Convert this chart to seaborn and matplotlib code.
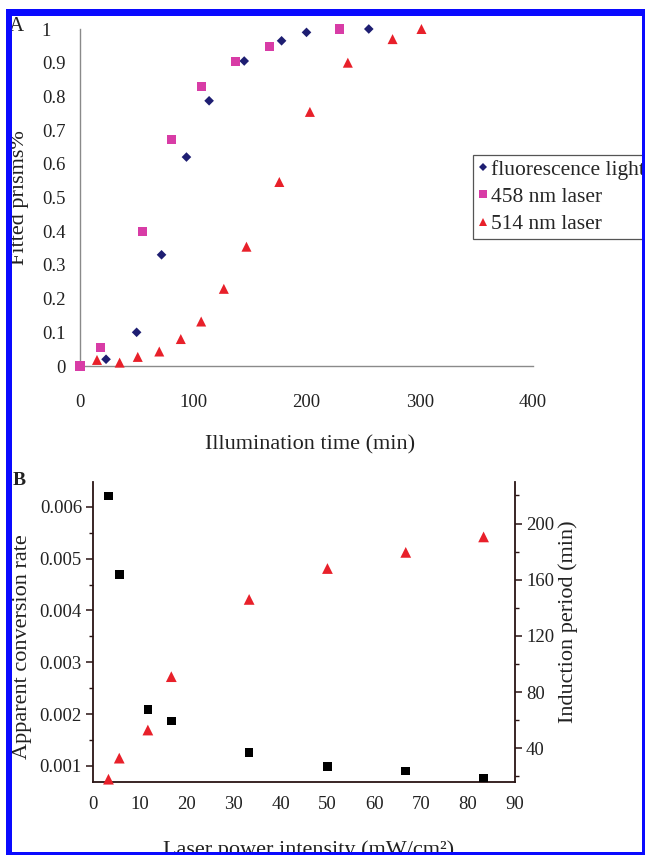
import matplotlib
matplotlib.use('Agg')
import matplotlib.pyplot as plt
import seaborn as sns
import pandas as pd
from matplotlib.patches import Rectangle
from matplotlib.lines import Line2D

# ---------------- Panel A data ----------------
fl_time = [23, 50, 72, 94, 114, 145, 178, 200, 255]
fl_frac = [0.02, 0.10, 0.33, 0.62, 0.787, 0.905, 0.965, 0.99, 1.0]
l458_time = [0, 18.5, 55, 81, 107, 137, 167.5, 229]
l458_frac = [0.0, 0.055, 0.40, 0.673, 0.83, 0.905, 0.947, 1.0]
l514_time = [15, 35, 51, 70, 89, 107, 127, 147, 176, 203, 236.5, 276, 301.5]
l514_frac = [0.018, 0.01, 0.027, 0.043, 0.08, 0.132, 0.229, 0.354, 0.546,
             0.754, 0.90, 0.97, 1.0]
series_names = ['fluorescence light', '458 nm laser', '514 nm laser']
a_xticks = [0, 100, 200, 300, 400]
a_yticks = [0, 0.1, 0.2, 0.3, 0.4, 0.5, 0.6, 0.7, 0.8, 0.9, 1.0]
a_yticklabels = ['0', '0.1', '0.2', '0.3', '0.4', '0.5', '0.6', '0.7', '0.8', '0.9', '1   ']

# ---------------- Panel B data ----------------
power = [3.3, 5.6, 11.7, 16.7, 33.3, 50.0, 66.7, 83.3]
conv_rate = [0.00621, 0.0047, 0.00209, 0.00187, 0.00126, 0.00099, 0.0009, 0.00077]
induction = [18, 33, 53, 91, 146, 168, 179.5, 190.5]
b_lticks = [0.001, 0.002, 0.003, 0.004, 0.005, 0.006]
b_lticklabels = ['0.001', '0.002', '0.003', '0.004', '0.005', '0.006']
b_rticks = [40, 80, 120, 160, 200]

W, H = 645, 855
sns.set_style('white')
plt.rcParams['font.family'] = ['Liberation Serif', 'DejaVu Serif']

fig = plt.figure(figsize=(W / 100, H / 100), dpi=100)


def px_axes(l, t, r, b):
    return fig.add_axes([l / W, 1 - b / H, (r - l) / W, (b - t) / H])


# ---------------- Panel A ----------------
axA = px_axes(80, 29, 533, 366)
dfA = pd.concat([
    pd.DataFrame({'time': fl_time, 'frac': fl_frac, 'series': series_names[0]}),
    pd.DataFrame({'time': l458_time, 'frac': l458_frac, 'series': series_names[1]}),
    pd.DataFrame({'time': l514_time, 'frac': l514_frac, 'series': series_names[2]}),
])
colsA = {series_names[0]: '#1e1e72', series_names[1]: '#d83ca6', series_names[2]: '#e8202a'}
markA = {series_names[0]: 'D', series_names[1]: 's', series_names[2]: '^'}
sizeA = {series_names[0]: 24, series_names[1]: 42, series_names[2]: 52}
for name in series_names:
    sub = dfA[dfA['series'] == name]
    sns.scatterplot(data=sub, x='time', y='frac', ax=axA, marker=markA[name],
                    color=colsA[name], s=sizeA[name], edgecolor='none',
                    linewidth=0, clip_on=False, zorder=3, legend=False)

axA.set_xlim(0, 400)
axA.set_ylim(0, 1)
axA.set_xticks(a_xticks)
axA.set_yticks(a_yticks, labels=a_yticklabels)
for s in ['top', 'right']:
    axA.spines[s].set_visible(False)
for s in ['left', 'bottom']:
    axA.spines[s].set_color('#8a8a8a')
    axA.spines[s].set_linewidth(1.0)
axA.tick_params(axis='both', direction='in', length=4, width=0.9, color='#8a8a8a',
                labelsize=13.5, labelcolor='#222222')
axA.tick_params(axis='x', pad=20)
axA.tick_params(axis='y', pad=10)
axA.set_xlabel('Illumination time (min)', fontsize=16, color='#222222')
axA.set_ylabel('Fitted prisms%', fontsize=16, color='#222222')
axA.xaxis.label.set_va('center')
axA.yaxis.label.set_va('center')
axA.xaxis.set_label_coords((310 - 80) / 453, (366 - 445) / 337)
axA.yaxis.set_label_coords((20 - 80) / 453, 0.5)

handles = [Line2D([], [], linestyle='none', marker=markA[n], color=colsA[n],
                  markeredgewidth=0, markersize={'D': 4.2, 's': 5.5, '^': 6}[markA[n]])
           for n in series_names]
leg = axA.legend(handles, series_names, loc='upper left',
                 bbox_to_anchor=(473 / W, 1 - 155 / H), bbox_transform=fig.transFigure,
                 borderaxespad=0, frameon=True, fancybox=False, framealpha=1,
                 edgecolor='#555555', fontsize=15.5, borderpad=0.22,
                 labelspacing=0.33, handlelength=0.5, handletextpad=0.12)
leg.get_frame().set_linewidth(0.9)

# ---------------- Panel B ----------------
axB = px_axes(93, 482, 515, 782)
axR = axB.twinx()
sns.scatterplot(x=power, y=conv_rate, ax=axB, marker='s', color='black', s=38,
                edgecolor='none', linewidth=0, clip_on=False, zorder=3, legend=False)
sns.scatterplot(x=power, y=induction, ax=axR, marker='^', color='#e8202a', s=60,
                edgecolor='none', linewidth=0, clip_on=False, zorder=3, legend=False)

axB.set_xlim(0, 90)
axB.set_ylim(0.00069, 0.00648)
axR.set_ylim(16, 229.6)
axB.set_xticks(range(0, 91, 10))
axB.set_xticks(range(5, 90, 10), minor=True)
axB.set_yticks(b_lticks, labels=b_lticklabels)
axB.set_yticks([0.0015, 0.0025, 0.0035, 0.0045, 0.0055], minor=True)
axR.set_yticks(b_rticks)
axR.set_yticks([20, 60, 100, 140, 180, 220], minor=True)

axB.spines['top'].set_visible(False)
axR.spines['top'].set_visible(False)
axB.spines['right'].set_visible(False)
axR.spines['left'].set_visible(False)
axR.spines['bottom'].set_visible(False)
for sp in [axB.spines['left'], axB.spines['bottom'], axR.spines['right']]:
    sp.set_color('#2a1414')
    sp.set_linewidth(1.3)
for ax in [axB, axR]:
    ax.tick_params(which='major', direction='out', length=5, width=1.1, color='#2a1414',
                   labelsize=13.5, labelcolor='#222222')
    ax.tick_params(which='minor', direction='out', length=3, width=1.0, color='#2a1414')
axB.tick_params(axis='x', pad=5)
axB.tick_params(axis='y', pad=3)
axR.tick_params(axis='y', pad=3)
axB.grid(False)
axR.grid(False)

axB.set_xlabel('Laser power intensity (mW/cm\u00b2)', fontsize=16, color='#222222')
axB.set_ylabel('Apparent conversion rate', fontsize=16, color='#222222')
axR.set_ylabel('Induction period (min)', fontsize=16, color='#222222')
axB.xaxis.label.set_va('center')
axB.yaxis.label.set_va('center')
axR.yaxis.label.set_va('center')
axB.xaxis.set_label_coords((309 - 93) / 422, (782 - 850) / 300)
axB.yaxis.set_label_coords((22 - 93) / 422, (782 - 647) / 300)
axR.yaxis.set_label_coords((568 - 93) / 422, (782 - 622) / 300)

# panel letters
fig.text(9 / W, 1 - 31 / H, 'A', fontsize=15, va='baseline', ha='left', color='#222222')
fig.text(13 / W, 1 - 485 / H, 'B', fontsize=14, fontweight='bold', va='baseline',
         ha='left', color='#222222')

# blue frame
blue = '#0a0aff'
for (x0, y0, x1, y1) in [(6, 9, 12, 855), (6, 9, 645, 16), (642, 9, 645, 855), (6, 852, 645, 855)]:
    fig.patches.append(Rectangle((x0 / W, 1 - y1 / H), (x1 - x0) / W, (y1 - y0) / H,
                                 transform=fig.transFigure, facecolor=blue,
                                 edgecolor='none', zorder=20))

fig.savefig('out.png', dpi=100)
